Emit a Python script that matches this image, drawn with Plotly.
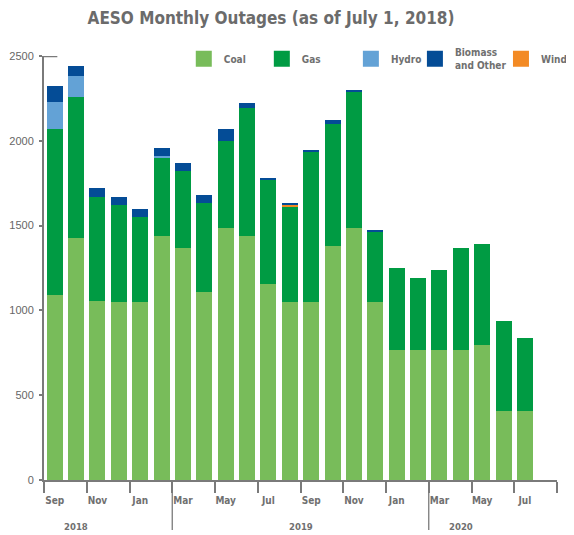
import plotly.graph_objects as go

# ---- data (MW of outages) ----
months = ["Sep", "Oct", "Nov", "Dec", "Jan", "Feb", "Mar", "Apr", "May", "Jun", "Jul", "Aug",
          "Sep", "Oct", "Nov", "Dec", "Jan", "Feb", "Mar", "Apr", "May", "Jun", "Jul"]
coal = [1092, 1429, 1057, 1051, 1051, 1440, 1370, 1110, 1488, 1440, 1157, 1051,
        1051, 1381, 1488, 1051, 767, 767, 767, 767, 797, 407, 407]
gas = [978, 829, 612, 570, 500, 459, 452, 523, 511, 754, 612, 559,
       884, 719, 800, 413, 484, 425, 473, 603, 596, 532, 431]
hydro = [159, 124, 0, 0, 0, 11, 0, 0, 0, 0, 0, 0,
         0, 0, 0, 0, 0, 0, 0, 0, 0, 0, 0]
wind = [0, 0, 0, 0, 0, 0, 0, 0, 0, 0, 0, 12,
        0, 0, 0, 0, 0, 0, 0, 0, 0, 0, 0]
biomass = [94, 59, 53, 48, 47, 48, 47, 47, 71, 30, 12, 6,
           5, 24, 12, 6, 0, 0, 0, 0, 0, 0, 0]
years = ["2018", "2019", "2020"]
y_ticks = [0, 500, 1000, 1500, 2000, 2500]

series = [
    ("Coal", coal, "#78BC5A"),
    ("Gas", gas, "#009B43"),
    ("Hydro", hydro, "#63A2D6"),
    ("Wind", wind, "#F38A24"),
    ("Biomass<br>and Other", biomass, "#044C96"),
]
legend_order = ["Coal", "Gas", "Hydro", "Biomass<br>and Other", "Wind"]

GRAY = "#7a7a7a"
TXT = "#707070"
NARROW = "Liberation Sans Narrow, DejaVu Sans Condensed, Liberation Sans, Arial, sans-serif"

x = list(range(len(months)))
n_slots = 24

# page body has an 8px margin: figure is sized to the visible area
W, H = 566, 527
OFF = 8

fig = go.Figure()
for name, vals, col in series:
    fig.add_trace(go.Bar(
        x=x, y=vals, name=name, marker=dict(color=col, line=dict(width=0)),
        width=0.75, showlegend=False, legendgroup=name,
    ))

# legend entries (one legend per item so each sits where the reference puts it)
colors = {n: c for n, _, c in series}
legend_px = [184, 262, 351, 415, 501]
for i, name in enumerate(legend_order):
    key = "legend" if i == 0 else f"legend{i+1}"
    fig.add_trace(go.Scatter(
        x=[None], y=[None], mode="markers", name=name, legendgroup=name,
        marker=dict(symbol="square", size=16, color=colors[name]),
        legend=key, showlegend=True,
    ))
    fig.update_layout(**{key: dict(
        x=(legend_px[i] - 44.3) / 512.7, xanchor="left",
        y=(480 - 58.5) / 424.3, yanchor="middle",
        bgcolor="rgba(0,0,0,0)", borderwidth=0,
        font=dict(family=NARROW, size=10, color=TXT, weight="bold"),
        itemclick=False, itemdoubleclick=False,
    )})

shapes = []
# year separators
for xs in [5.5, 17.5]:
    shapes.append(dict(type="line", xref="x", yref="paper", x0=xs, x1=xs,
                       y0=0, y1=(480 - 530) / 424.3, line=dict(color=GRAY, width=1.3)))
# cap at top of value axis
shapes.append(dict(type="line", xref="paper", yref="y", x0=-0.002, x1=0.026,
                   y0=2500, y1=2500, line=dict(color=GRAY, width=2.5)))

year_pos = [1, 11.5, 19]
annotations = []
for yr, xp in zip(years, year_pos):
    annotations.append(dict(text=yr, x=xp, xref="x", y=(480 - 527) / 424.3, yref="paper",
                            showarrow=False, xanchor="center", yanchor="middle",
                            font=dict(family=NARROW, size=9.5, color=TXT, weight="bold")))

fig.update_layout(
    width=W, height=H,
    margin=dict(l=44.3 - OFF, r=W - (557 - OFF), t=55.7 - OFF, b=H - (480 - OFF),
                autoexpand=False),
    paper_bgcolor="white", plot_bgcolor="white",
    barmode="stack", bargap=0,
    title=dict(text="AESO Monthly Outages (as of July 1, 2018)",
               x=(271 - OFF) / W, xanchor="center", xref="container",
               y=1 - (18 - OFF) / H, yanchor="middle", yref="container",
               font=dict(family=NARROW, size=17, color="#6b6b6b", weight="bold")),
    xaxis=dict(range=[-0.5, n_slots - 0.5], tickmode="array",
               tickvals=x[::2], ticktext=months[::2], ticks="", ticklabelstandoff=10,
               showline=True, linecolor=GRAY, linewidth=2, showgrid=False, zeroline=False,
               tickfont=dict(family=NARROW, size=10, color=TXT, weight="bold"),
               minor=dict(tickmode="array", tickvals=[v - 0.5 for v in range(0, n_slots + 1, 2)],
                          ticks="outside", ticklen=11, tickwidth=2, tickcolor=GRAY, showgrid=False),
               fixedrange=True),
    yaxis=dict(range=[0, 2500], tickmode="array", tickvals=y_ticks,
               ticks="outside", ticklen=3, tickwidth=2, tickcolor=GRAY,
               showline=True, linecolor=GRAY, linewidth=2, showgrid=False, zeroline=False,
               tickfont=dict(family="Liberation Sans, Arial, sans-serif", size=11, color="#666666"),
               ticklabelstandoff=3, fixedrange=True),
    shapes=shapes, annotations=annotations,
    showlegend=True,
)

fig.write_html("out.html")
